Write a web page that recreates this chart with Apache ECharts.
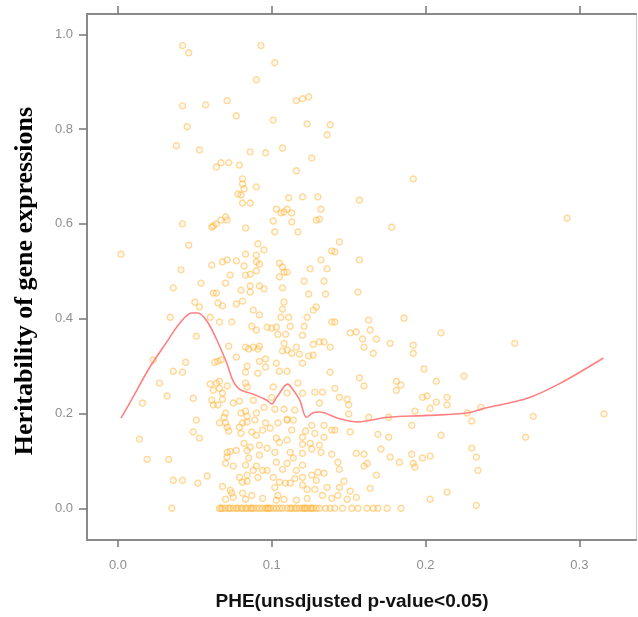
<!DOCTYPE html>
<html>
<head>
<meta charset="utf-8">
<script src="https://cdn.jsdelivr.net/npm/echarts@6/dist/echarts.min.js"></script>
<style>
html,body{margin:0;padding:0;background:#fff;}
#chart{width:638px;height:617px;}
</style>
</head>
<body>
<div id="chart"></div>
<script>
// ---- data ----
const xTicks = [0, 0.1, 0.2, 0.3];
const yTicks = [0, 0.2, 0.4, 0.6, 0.8, 1.0];
const xTitle = 'PHE(unsdjusted p-value<0.05)';
const yTitle = 'Heritability of gene expressions';

const highPoints = [
[0.042,0.976],[0.046,0.961],[0.093,0.976],[0.102,0.940],[0.090,0.904],[0.042,0.849],[0.057,0.851],[0.071,0.860],[0.077,0.828],[0.116,0.860],[0.120,0.864],[0.124,0.868],[0.101,0.819],[0.123,0.811],[0.045,0.805],[0.038,0.765],[0.053,0.756],[0.086,0.752],[0.096,0.750],[0.107,0.760],[0.126,0.739],[0.064,0.720],[0.067,0.729],[0.072,0.729],[0.079,0.724],[0.081,0.695],[0.081,0.684],[0.082,0.674],[0.090,0.678],[0.078,0.663],[0.080,0.661],[0.081,0.644],[0.086,0.644],[0.116,0.712],[0.120,0.657],[0.111,0.655],[0.130,0.657],[0.138,0.809],[0.136,0.788],[0.192,0.695],[0.157,0.650],[0.292,0.612],[0.178,0.593],[0.144,0.562],[0.141,0.541],[0.157,0.524],[0.156,0.456],[0.132,0.631],[0.131,0.610],[0.132,0.524],[0.136,0.505],[0.134,0.479],[0.135,0.452],[0.139,0.543]
];

const midPoints = [
[0.002,0.536],[0.042,0.600],[0.062,0.596],[0.046,0.555],[0.061,0.513],[0.041,0.503],[0.054,0.475],[0.036,0.465],[0.050,0.435],[0.053,0.425],[0.062,0.454],[0.034,0.403],[0.060,0.403],[0.051,0.363],[0.023,0.313],[0.044,0.308],[0.036,0.289],[0.042,0.287],
[0.061,0.593],[0.064,0.600],[0.067,0.608],[0.070,0.615],[0.071,0.608],[0.083,0.591],[0.103,0.631],[0.106,0.623],[0.108,0.625],[0.110,0.631],[0.113,0.623],[0.101,0.606],[0.102,0.583],[0.113,0.604],[0.117,0.583],[0.129,0.608],
[0.091,0.558],[0.095,0.545],[0.083,0.536],[0.090,0.534],[0.068,0.520],[0.071,0.524],[0.077,0.522],[0.082,0.511],[0.090,0.520],[0.092,0.515],[0.105,0.517],[0.107,0.509],[0.108,0.498],[0.110,0.498],[0.105,0.488],[0.125,0.505],[0.073,0.492],[0.083,0.492],[0.086,0.494],[0.090,0.501],[0.121,0.479],[0.070,0.475],[0.080,0.460],[0.086,0.469],[0.092,0.469],[0.095,0.463],[0.086,0.456],[0.107,0.465],[0.124,0.452],[0.064,0.454],
[0.081,0.437],[0.077,0.431],[0.108,0.435],[0.129,0.425],[0.127,0.418],[0.065,0.433],[0.068,0.427],[0.107,0.420],[0.088,0.418],[0.092,0.408],[0.106,0.403],[0.111,0.403],[0.123,0.403],[0.066,0.393],[0.074,0.393],[0.087,0.384],[0.090,0.376],[0.097,0.382],[0.100,0.380],[0.103,0.382],[0.112,0.384],[0.121,0.384],[0.104,0.367],[0.109,0.367],[0.120,0.365],[0.139,0.393],
[0.072,0.342],[0.083,0.340],[0.085,0.336],[0.088,0.340],[0.091,0.336],[0.092,0.342],[0.108,0.348],[0.116,0.340],[0.127,0.346],[0.131,0.351],[0.134,0.351],[0.110,0.334],[0.107,0.332],[0.113,0.327],[0.118,0.325],[0.127,0.323],[0.138,0.340],[0.067,0.313],[0.077,0.319],[0.084,0.300],[0.092,0.310],[0.096,0.315],[0.103,0.306],[0.105,0.289],[0.110,0.289],[0.096,0.298],[0.083,0.287],[0.091,0.285],[0.138,0.287],[0.120,0.306],[0.124,0.321],[0.065,0.310],[0.063,0.308]
];

const lowPoints = [
[0.027,0.264],[0.016,0.222],[0.032,0.237],[0.049,0.232],[0.060,0.262],[0.062,0.249],[0.051,0.186],[0.049,0.161],[0.053,0.148],[0.014,0.146],[0.019,0.103],[0.033,0.103],[0.036,0.059],[0.042,0.059],[0.052,0.053],[0.058,0.068],[0.035,0.000],[0.062,0.218],
[0.066,0.268],[0.066,0.253],[0.061,0.228],[0.071,0.258],[0.068,0.230],[0.075,0.222],[0.069,0.192],[0.066,0.180],[0.072,0.163],[0.079,0.171],[0.073,0.120],[0.071,0.108],[0.070,0.095],[0.075,0.089],[0.068,0.046],[0.073,0.038],[0.074,0.032],[0.075,0.023],[0.070,0.019],
[0.064,0.264],[0.083,0.264],[0.084,0.256],[0.101,0.256],[0.117,0.264],[0.128,0.245],[0.133,0.245],[0.068,0.243],[0.100,0.234],[0.110,0.243],[0.120,0.243],[0.079,0.226],[0.088,0.228],[0.095,0.213],[0.102,0.209],[0.108,0.209],[0.115,0.207],[0.131,0.222],[0.065,0.218],[0.083,0.205],[0.090,0.201],[0.080,0.201],[0.084,0.194],[0.070,0.201],[0.110,0.188],[0.070,0.180],[0.089,0.186],[0.096,0.180],[0.104,0.180],[0.110,0.186],[0.114,0.186],[0.071,0.171],[0.081,0.180],[0.084,0.182],[0.126,0.175],[0.134,0.175],[0.139,0.165],[0.094,0.165],[0.099,0.169],[0.113,0.165],[0.122,0.163],[0.087,0.161],[0.080,0.158],[0.128,0.158],[0.134,0.150],[0.103,0.148],[0.090,0.154],[0.120,0.150],[0.110,0.144],[0.105,0.139],[0.120,0.135],[0.125,0.137],[0.131,0.133],[0.082,0.137],[0.086,0.129],[0.092,0.133],[0.097,0.127],[0.071,0.118],[0.077,0.122],[0.084,0.122],[0.102,0.118],[0.112,0.118],[0.120,0.116],[0.126,0.125],[0.132,0.118],[0.139,0.114],[0.092,0.112],[0.085,0.106],[0.103,0.097],[0.110,0.095],[0.083,0.091],[0.090,0.089],[0.120,0.091],[0.114,0.106],[0.107,0.082],[0.094,0.080],[0.088,0.080],[0.097,0.080],[0.116,0.080],[0.126,0.070],[0.130,0.076],[0.134,0.074],[0.084,0.070],[0.079,0.065],[0.091,0.065],[0.101,0.065],[0.115,0.063],[0.120,0.065],[0.129,0.059],[0.081,0.055],[0.084,0.057],[0.105,0.055],[0.109,0.053],[0.112,0.053],[0.102,0.044],[0.120,0.049],[0.123,0.040],[0.128,0.040],[0.136,0.044],[0.081,0.032],[0.087,0.027],[0.104,0.027],[0.103,0.017],[0.108,0.019],[0.116,0.017],[0.123,0.021],[0.133,0.027],[0.139,0.021],[0.094,0.021],[0.083,0.019]
];

const rightPoints = [
[0.186,0.401],[0.163,0.397],[0.164,0.376],[0.151,0.370],[0.155,0.372],[0.210,0.370],[0.159,0.357],[0.168,0.357],[0.160,0.340],[0.177,0.348],[0.192,0.344],[0.192,0.327],[0.166,0.327],[0.141,0.393],[0.199,0.294],[0.207,0.268],[0.157,0.275],[0.160,0.258],[0.181,0.268],[0.184,0.260],[0.181,0.249],[0.141,0.253],[0.144,0.234],[0.149,0.230],[0.150,0.218],[0.150,0.199],[0.163,0.192],[0.198,0.234],[0.201,0.237],[0.214,0.234],[0.207,0.224],[0.203,0.211],[0.214,0.218],[0.193,0.205],[0.141,0.165],[0.151,0.161],[0.169,0.156],[0.176,0.150],[0.191,0.175],[0.210,0.154],[0.171,0.125],[0.155,0.116],[0.160,0.114],[0.191,0.114],[0.198,0.106],[0.203,0.110],[0.177,0.108],[0.162,0.095],[0.160,0.089],[0.183,0.097],[0.192,0.095],[0.193,0.087],[0.143,0.097],[0.144,0.082],[0.168,0.070],[0.147,0.057],[0.144,0.044],[0.164,0.042],[0.151,0.036],[0.143,0.027],[0.149,0.019],[0.155,0.023],[0.203,0.019],[0.214,0.034],[0.176,0.192],
[0.225,0.279],[0.230,0.184],[0.230,0.127],[0.233,0.108],[0.234,0.080],[0.233,0.006],[0.236,0.213],[0.227,0.201],[0.258,0.348],[0.270,0.194],[0.265,0.150],[0.316,0.199]
];

// genes whose heritability is 0 (x = PHE)
const zeroRowX = [0.066,0.067,0.068,0.070,0.072,0.073,0.075,0.077,0.078,0.080,0.081,0.083,0.084,0.086,0.087,0.088,0.090,0.092,0.094,0.096,0.097,0.098,0.099,0.101,0.103,0.105,0.107,0.110,0.112,0.113,0.115,0.116,0.118,0.120,0.121,0.122,0.123,0.125,0.126,0.127,0.129,0.131,0.135,0.138,0.141,0.146,0.152,0.156,0.162,0.166,0.169,0.175,0.184];

// smoothed (loess) curve
const curveX = [0.002,0.0097,0.0208,0.0318,0.0403,0.0481,0.0519,0.0578,0.0643,0.0708,0.0747,0.0792,0.0877,0.0968,0.1000,0.1032,0.1104,0.1136,0.1182,0.1227,0.1266,0.1312,0.1429,0.1558,0.1753,0.2013,0.2273,0.2383,0.2662,0.2877,0.3156];
const curveY = [0.190,0.234,0.298,0.351,0.391,0.412,0.412,0.395,0.355,0.306,0.270,0.251,0.241,0.228,0.220,0.234,0.262,0.251,0.228,0.192,0.201,0.203,0.190,0.182,0.192,0.196,0.201,0.211,0.232,0.264,0.317];

// ---- build chart ----
const scatterData = highPoints.concat(midPoints, lowPoints, rightPoints, zeroRowX.map(x => [x, 0]));
const curveData = curveX.map((x, i) => [x, curveY[i]]);

const X_MIN = -0.0201, X_MAX = 0.3368, Y_MIN = -0.0669, Y_MAX = 1.0428;
const labelStyle = {color: '#8f8f8f', fontSize: 13, fontFamily: 'Liberation Sans, Arial, sans-serif'};

const chart = echarts.init(document.getElementById('chart'), null, {renderer: 'canvas'});
chart.setOption({
  animation: false,
  backgroundColor: '#ffffff',
  grid: {left: 87, right: 2, top: 14, bottom: 77, containLabel: false, outerBoundsMode: 'none'},
  xAxis: [
    {type: 'value', position: 'bottom', min: X_MIN, max: X_MAX,
     axisLine: {show: true, onZero: false, lineStyle: {color: '#8a8a8a', width: 2}},
     axisTick: {show: true, customValues: xTicks, length: 7, lineStyle: {color: '#777', width: 1.5}},
     axisLabel: Object.assign({customValues: xTicks, margin: 19, formatter: v => v.toFixed(1)}, labelStyle),
     splitLine: {show: false}},
    {type: 'value', position: 'top', min: X_MIN, max: X_MAX,
     axisLine: {show: true, onZero: false, lineStyle: {color: '#8a8a8a', width: 2}},
     axisTick: {show: true, customValues: xTicks, length: 8, lineStyle: {color: '#777', width: 1.5}},
     axisLabel: {show: false}, splitLine: {show: false}}
  ],
  yAxis: [
    {type: 'value', position: 'left', min: Y_MIN, max: Y_MAX,
     axisLine: {show: true, onZero: false, lineStyle: {color: '#8a8a8a', width: 2}},
     axisTick: {show: true, customValues: yTicks, length: 8, lineStyle: {color: '#777', width: 1.5}},
     axisLabel: Object.assign({customValues: yTicks, margin: 14, formatter: v => v.toFixed(1)}, labelStyle),
     splitLine: {show: false}},
    {type: 'value', position: 'right', min: Y_MIN, max: Y_MAX,
     axisLine: {show: true, onZero: false, lineStyle: {color: '#c8c8c8', width: 1}},
     axisTick: {show: false}, axisLabel: {show: false}, splitLine: {show: false}}
  ],
  series: [
    {type: 'scatter', xAxisIndex: 0, yAxisIndex: 0, data: scatterData,
     symbol: 'circle', symbolSize: 6,
     itemStyle: {color: 'rgba(255,220,160,0.2)', borderColor: 'rgba(255,170,30,0.55)', borderWidth: 1.4},
     silent: true},
    {type: 'line', xAxisIndex: 0, yAxisIndex: 0, data: curveData, smooth: 0.35,
     symbol: 'none', lineStyle: {color: '#ff8080', width: 1.6}, silent: true, z: 3}
  ],
  graphic: [
    {type: 'text', x: 352, y: 602,
     style: {text: xTitle, fill: '#111', font: 'bold 19px "Liberation Sans", Arial, sans-serif',
             align: 'center', verticalAlign: 'middle'}},
    {type: 'text', x: 25, y: 281, rotation: Math.PI / 2,
     style: {text: yTitle, fill: '#000', font: 'bold 26px "Liberation Serif", "Times New Roman", serif',
             align: 'center', verticalAlign: 'middle'}}
  ]
});
</script>
</body>
</html>
